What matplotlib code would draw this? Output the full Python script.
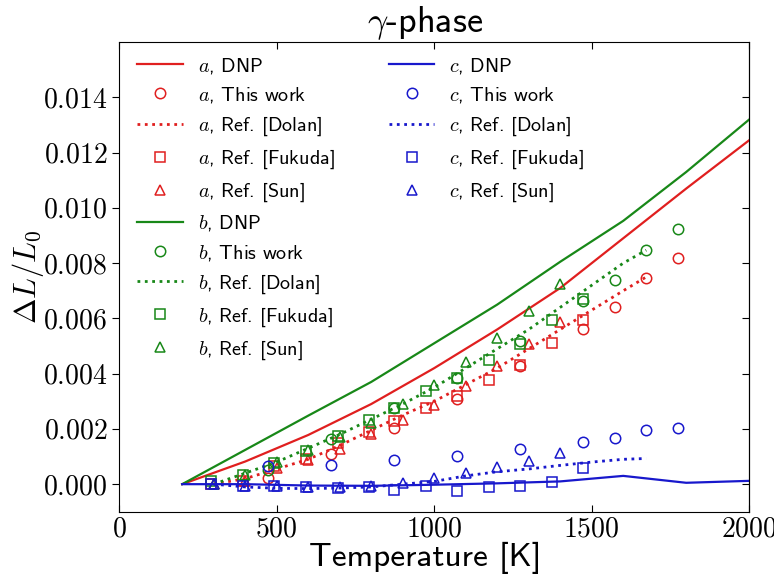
import numpy as np
import matplotlib
matplotlib.use('Agg')
import matplotlib.pyplot as plt
from matplotlib.ticker import FuncFormatter
from matplotlib.lines import Line2D

plt.rcParams['font.family'] = ['cmss10', 'DejaVu Sans']
plt.rcParams['mathtext.fontset'] = 'cm'
plt.rcParams['axes.unicode_minus'] = False

# DNP curves
T_dnp = [200, 400, 600, 800, 1000, 1200, 1400, 1600, 1800, 2000]
a_dnp = [0, 0.00082, 0.00178, 0.0029, 0.0042, 0.0056, 0.0071, 0.0089, 0.0107, 0.01245]
b_dnp = [0, 0.00124, 0.00248, 0.0037, 0.0051, 0.0065, 0.00805, 0.00953, 0.0113, 0.0132]
c_dnp = [0, 0.0, -0.00005, -0.00006, -0.00002, 0.00003, 0.0001, 0.0003, 0.00005, 0.00012]

# This work
T_work = [473, 673, 873, 1073, 1273, 1473, 1573, 1673, 1773]
a_work = [0.00023, 0.00108, 0.00204, 0.0031, 0.00428, 0.00563, 0.00642, 0.00748, 0.00818]
b_work = [0.0005, 0.00162, 0.00276, 0.00385, 0.00518, 0.00663, 0.00739, 0.00848, 0.00923]
c_work = [0.00065, 0.00071, 0.00086, 0.00101, 0.00126, 0.00153, 0.00168, 0.00197, 0.00204]

# Ref. Dolan
T_dolan = [300, 400, 500, 600, 700, 800, 900, 1000, 1100, 1200, 1300, 1400, 1500, 1600, 1673]
a_dolan = [0.0, 0.0002, 0.00055, 0.0009, 0.0014, 0.00195, 0.0025, 0.003, 0.0036, 0.0042,
           0.0049, 0.0056, 0.0063, 0.0070, 0.0075]
b_dolan = [0.0, 0.0004, 0.0008, 0.0013, 0.0018, 0.00235, 0.0029, 0.0035, 0.0042, 0.0049,
           0.0056, 0.0064, 0.0072, 0.0080, 0.00847]
c_dolan = [0.0, -0.0001, -0.00015, -0.00016, -0.00014, -0.0001, 0.0, 0.0001, 0.0003, 0.00045,
           0.00055, 0.00068, 0.0008, 0.0009, 0.00093]

# Ref. Fukuda
T_fuk = [293, 393, 493, 593, 693, 793, 873, 973, 1073, 1173, 1273, 1373, 1473]
a_fuk = [0.0, 0.0001, 0.00065, 0.0009, 0.0015, 0.0019, 0.0023, 0.00276, 0.0032, 0.00376,
         0.00431, 0.00512, 0.00593]
b_fuk = [0.0001, 0.00035, 0.00075, 0.0012, 0.00174, 0.00234, 0.00276, 0.00337, 0.00385,
         0.00448, 0.00508, 0.00593, 0.00669]
c_fuk = [0.0, -0.00005, -0.00005, -0.0001, -0.00015, -0.0001, -0.0002, -0.00007, -0.00025,
         -0.0001, -0.00007, 0.00007, 0.0006]

# Ref. Sun
T_sun = [300, 400, 500, 600, 700, 800, 900, 1000, 1100, 1200, 1300, 1400]
a_sun = [0.0, 0.0001, 0.0006, 0.00086, 0.00126, 0.0018, 0.00232, 0.00286, 0.00355, 0.00428,
         0.00508, 0.00588]
b_sun = [0.0, 0.00035, 0.0008, 0.00124, 0.0017, 0.0022, 0.0029, 0.00359, 0.00442, 0.0053,
         0.00627, 0.00726]
c_sun = [0.0, -0.00005, -0.00005, -0.0001, -0.0001, -0.00005, 0.00005, 0.00023, 0.00041,
         0.00063, 0.00083, 0.00113]

axes_names = ['a', 'b', 'c']
colors = {'a': '#e01f1f', 'b': '#188818', 'c': '#1818cc'}
dnp = {'a': a_dnp, 'b': b_dnp, 'c': c_dnp}
work = {'a': a_work, 'b': b_work, 'c': c_work}
dolan = {'a': a_dolan, 'b': b_dolan, 'c': c_dolan}
fuk = {'a': a_fuk, 'b': b_fuk, 'c': c_fuk}
sun = {'a': a_sun, 'b': b_sun, 'c': c_sun}

fig = plt.figure(figsize=(7.74, 5.77), dpi=100)
ax = fig.add_axes([0.154, 0.113, 0.814, 0.814])

handles = {}
for k in axes_names:
    col = colors[k]
    h1, = ax.plot(T_dnp, dnp[k], '-', color=col, lw=1.6, label='$%s$, DNP' % k)
    h2, = ax.plot(T_work, work[k], 'o', mfc='none', mec=col, ms=7.5, mew=1.1,
                  label='$%s$, This work' % k)
    h3, = ax.plot(T_dolan, dolan[k], ':', color=col, lw=2.0, label='$%s$, Ref. [Dolan]' % k)
    h4, = ax.plot(T_fuk, fuk[k], 's', mfc='none', mec=col, ms=7.5, mew=1.1,
                  label='$%s$, Ref. [Fukuda]' % k)
    h5, = ax.plot(T_sun, sun[k], '^', mfc='none', mec=col, ms=7.5, mew=1.1,
                  label='$%s$, Ref. [Sun]' % k)
    handles[k] = [h1, h2, h3, h4, h5]

# pad the second column with blanks so a and b share the first one
blank = [Line2D([], [], linestyle='none') for _ in range(5)]
hs = handles['a'] + handles['b'] + handles['c'] + blank
labels = [h.get_label() for h in hs[:15]] + [''] * 5
ax.legend(hs, labels, ncol=2, frameon=False, fontsize=14.5, loc='upper left',
          bbox_to_anchor=(0.0, 1.01), handlelength=2.25, handletextpad=0.75,
          labelspacing=0.47, columnspacing=2.7, numpoints=1)

ax.set_xlim(0, 2000)
ax.set_ylim(-0.001, 0.016)
ax.set_xticks([0, 500, 1000, 1500, 2000])
ax.set_yticks(np.arange(0, 0.0141, 0.002))
ax.xaxis.set_major_formatter(FuncFormatter(lambda v, p: '$%d$' % v))
ax.yaxis.set_major_formatter(FuncFormatter(lambda v, p: '$%.3f$' % v))
ax.tick_params(axis='x', which='both', direction='in', top=True, labelsize=20, length=5)
ax.tick_params(axis='y', which='both', direction='out', labelsize=20, length=5)
sec = ax.secondary_yaxis('right')
sec.set_yticks(np.arange(0, 0.0141, 0.002))
sec.tick_params(direction='in', labelright=False, length=5)

ax.set_xlabel('Temperature [K]', fontsize=24, labelpad=0, x=0.485)
ax.set_ylabel(r'$\Delta L/L_0$', fontsize=22, labelpad=-2)
ttl = ax.set_title(r'$\gamma$-phase', fontsize=26, pad=5)
ttl.set_x(0.485)

fig.savefig('out.png', dpi=100)
